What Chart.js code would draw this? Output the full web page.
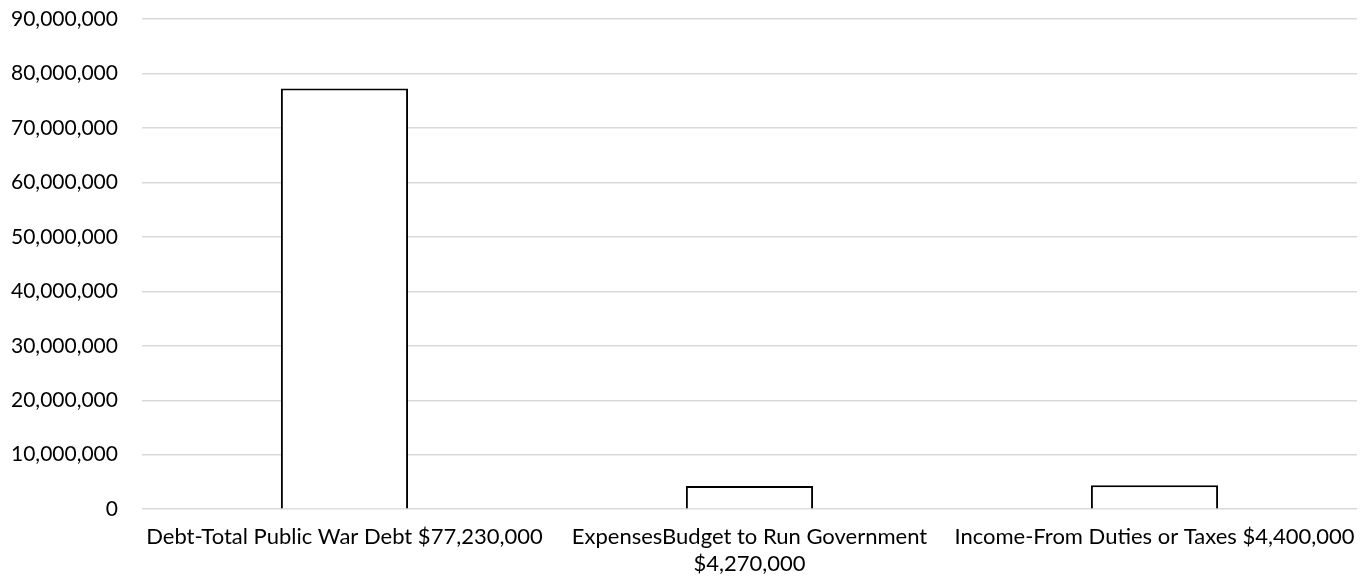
<!DOCTYPE html>
<html>
<head>
<meta charset="utf-8">
<script src="https://cdn.jsdelivr.net/npm/chart.js@4/dist/chart.umd.min.js"></script>
<style>
html,body{margin:0;padding:0;background:#fff;}
#wrap{width:1368px;height:582px;position:relative;}
</style>
</head>
<body>
<div id="wrap"><canvas id="c" width="1368" height="582"></canvas></div>
<script>
const categories = [
  "Debt-Total Public War Debt $77,230,000",
  ["ExpensesBudget to Run Government", "$4,270,000"],
  "Income-From Duties or Taxes $4,400,000"
];
const values = [77230000, 4270000, 4400000];
const yTicks = [0, 10000000, 20000000, 30000000, 40000000, 50000000, 60000000, 70000000, 80000000, 90000000];

const FONT = "Lato, 'Open Sans', sans-serif";
new Chart(document.getElementById('c'), {
  type: 'bar',
  data: {
    labels: categories,
    datasets: [{
      data: values,
      backgroundColor: '#ffffff',
      borderColor: '#000000',
      borderWidth: 2,
      categoryPercentage: 1,
      barPercentage: 0.314
    }]
  },
  options: {
    responsive: false,
    animation: false,
    devicePixelRatio: 1,
    layout: { padding: { top: 19, right: 11, bottom: 3, left: 9 } },
    plugins: { legend: { display: false }, tooltip: { enabled: false } },
    scales: {
      x: {
        grid: { display: true, color: 'rgba(0,0,0,0)', drawTicks: true, tickLength: 13, tickColor: 'rgba(0,0,0,0)' },
        border: { display: false },
        ticks: { color: '#000', font: { family: FONT, size: 22 }, padding: 2, maxRotation: 0, autoSkip: false, lineHeight: 1.18 }
      },
      y: {
        min: yTicks[0],
        max: yTicks[yTicks.length - 1],
        afterBuildTicks: (axis) => { axis.ticks = yTicks.map(v => ({ value: v })); },
        grid: { color: '#d9d9d9', lineWidth: 1.5, drawTicks: true, tickLength: 22, tickColor: 'rgba(0,0,0,0)' },
        border: { display: false },
        ticks: {
          color: '#000', font: { family: FONT, size: 21 }, padding: 2,
          callback: (v) => Number(v).toLocaleString('en-US')
        }
      }
    }
  }
});
</script>
</body>
</html>
